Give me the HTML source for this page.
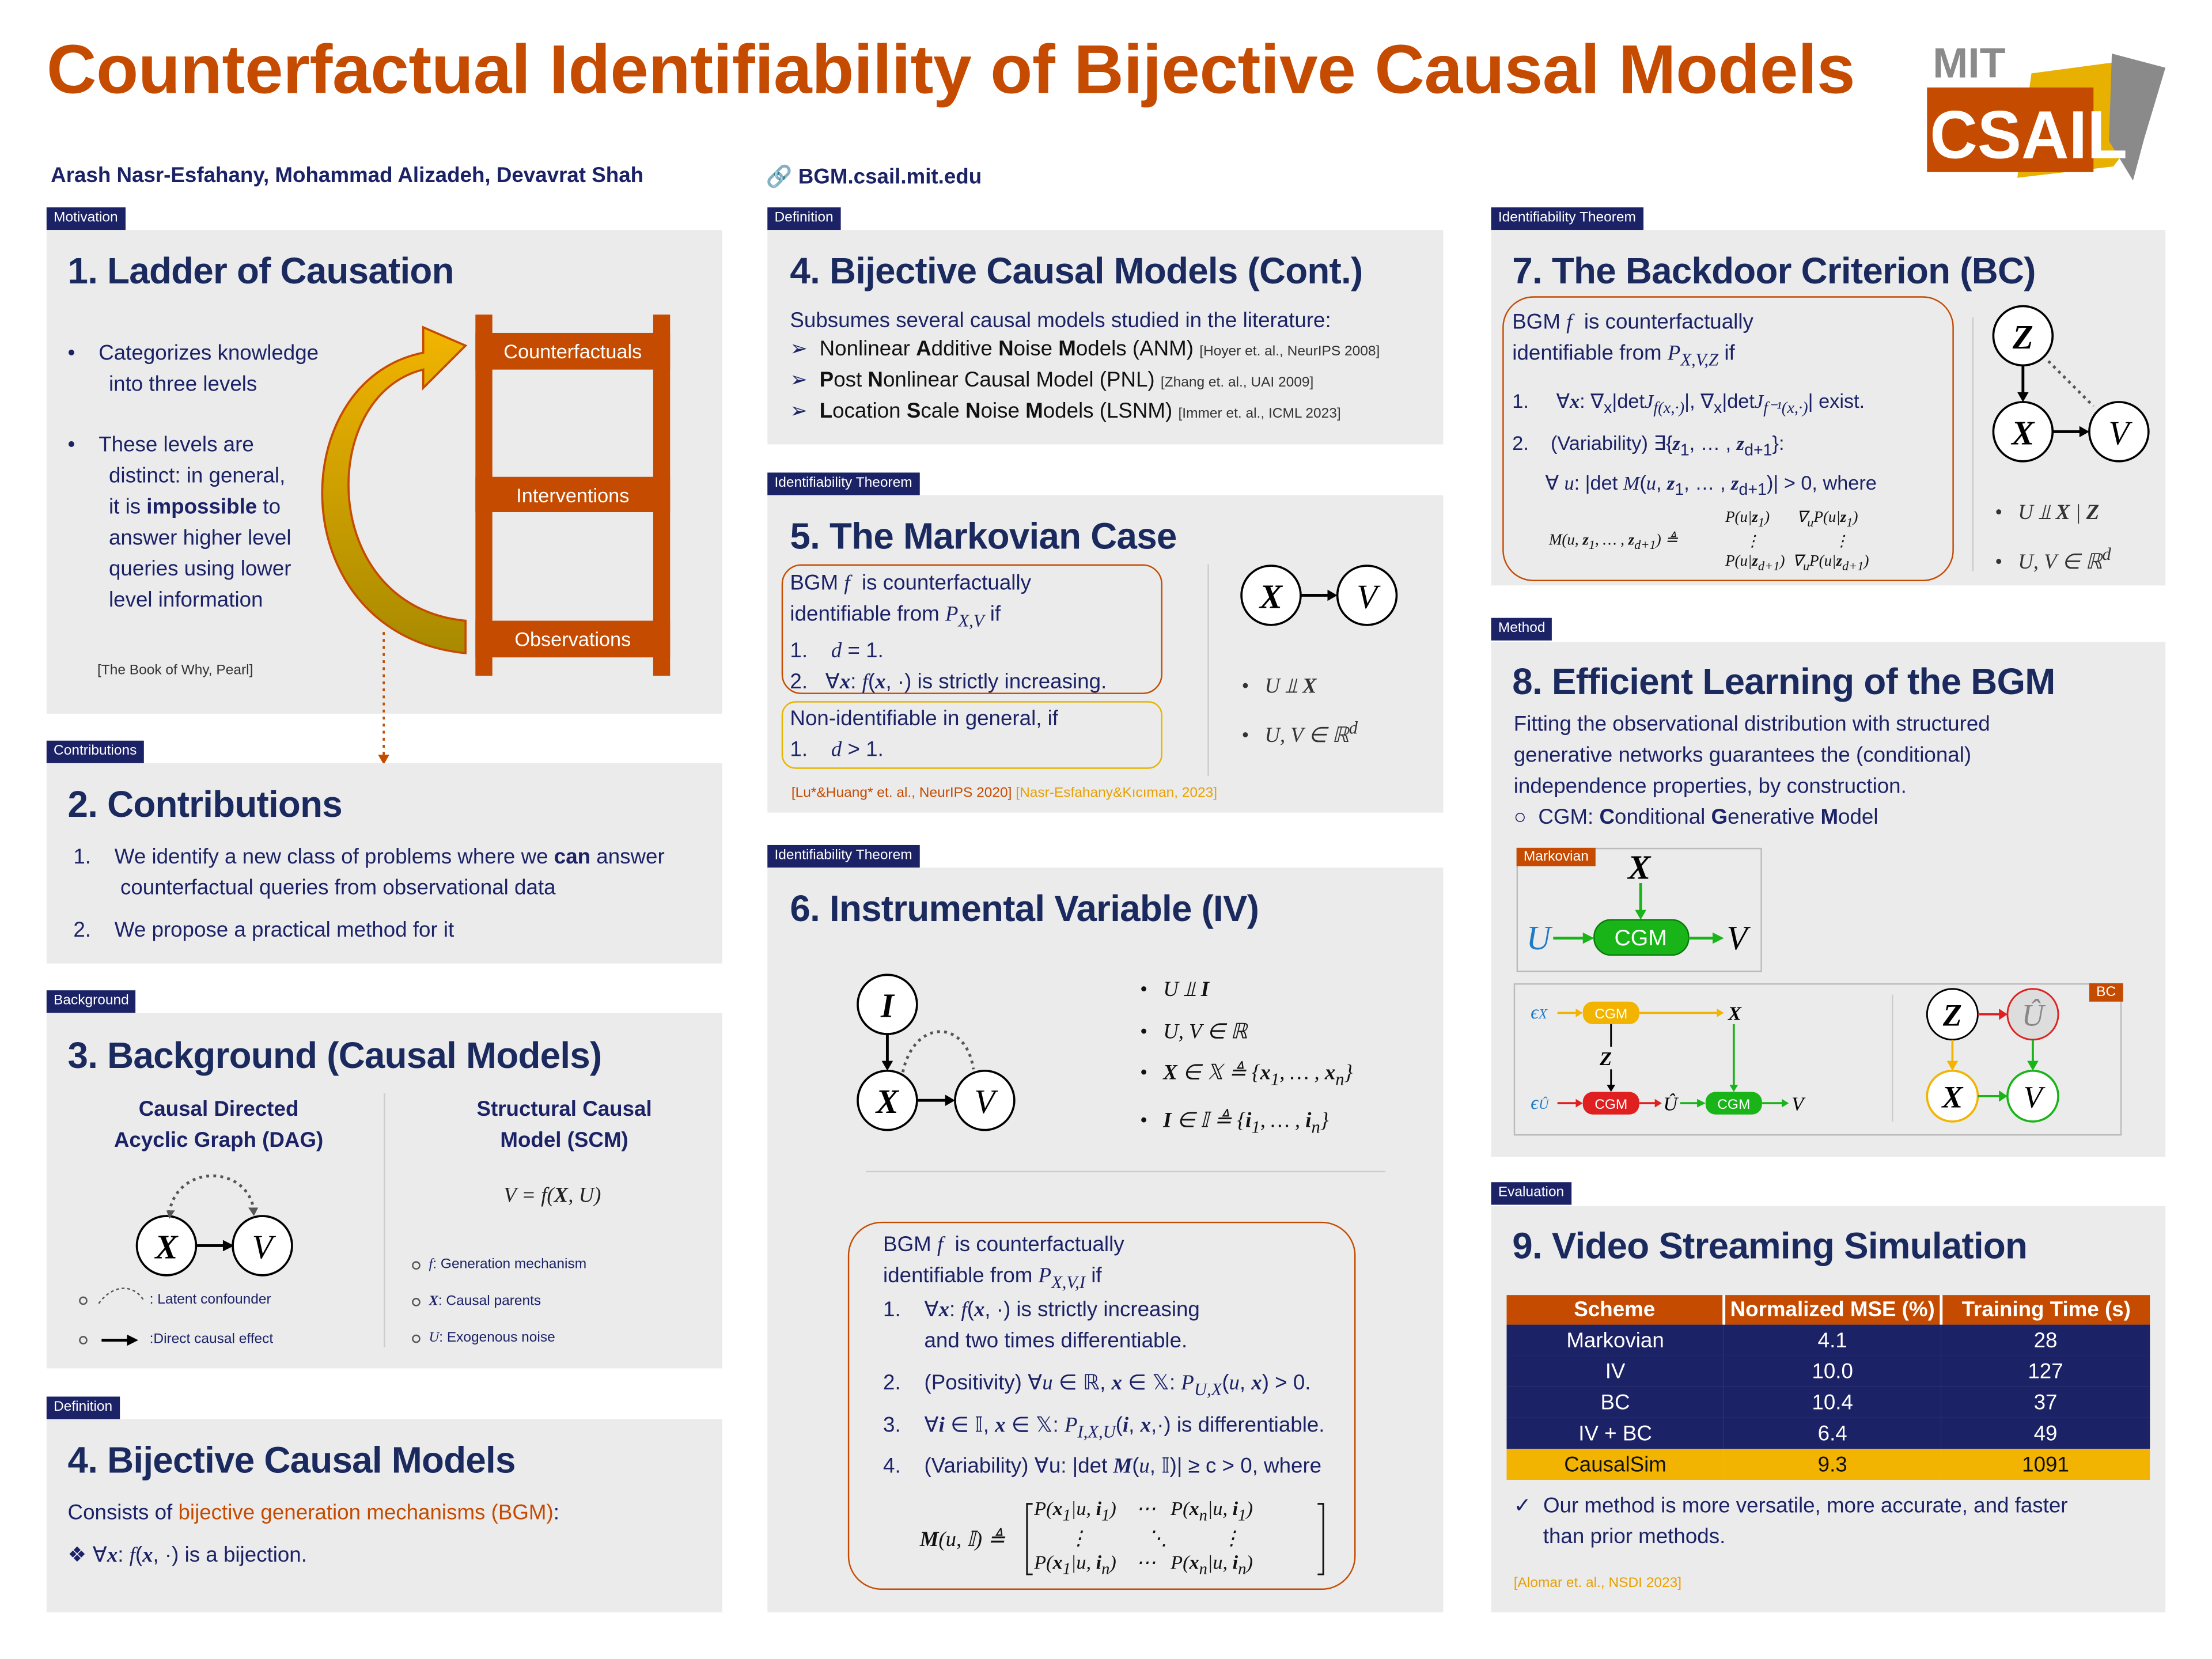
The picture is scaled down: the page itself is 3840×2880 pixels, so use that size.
<!DOCTYPE html>
<html><head><meta charset="utf-8">
<style>
html,body{margin:0;padding:0;background:#fff;}
body{width:3840px;height:2880px;overflow:hidden;}
#c{position:absolute;left:0;top:0;width:1568px;height:1176px;transform:scale(2.44898);transform-origin:0 0;font-family:"Liberation Sans",sans-serif;color:#111;}
.a{position:absolute;}
.p{position:absolute;background:#ebebeb;}
.tag{position:absolute;background:#1b2266;color:#fff;font-size:10px;padding:2px 5px;height:12px;line-height:12px;}
.h{position:absolute;color:#1b2a5e;font-weight:bold;font-size:26px;white-space:nowrap;letter-spacing:-0.3px;}
.t{position:absolute;font-size:15px;line-height:22px;color:#1b2266;white-space:nowrap;}
.m{font-family:"Liberation Serif",serif;font-style:italic;}
.s{font-size:10px;color:#333;}
.o{color:#c54b00;}
.box{position:absolute;border:1.3px solid #c54b00;border-radius:14px;}
.ybox{position:absolute;border:1.3px solid #e8b400;border-radius:10px;}
svg{position:absolute;left:0;top:0;overflow:visible;}
table{border-collapse:collapse;}
</style></head><body><div id="c">

<div class="a" style="left:33px;top:22px;font-size:49px;font-weight:bold;color:#c54b00;white-space:nowrap;letter-spacing:-0.2px;">Counterfactual Identifiability of Bijective Causal Models</div>
<div class="a" style="left:36px;top:116px;font-size:15px;font-weight:bold;color:#1b2266;">Arash Nasr-Esfahany, Mohammad Alizadeh, Devavrat Shah</div>
<div class="a" style="left:543px;top:116px;font-size:15px;font-weight:bold;color:#1b2266;">🔗 BGM.csail.mit.edu</div>

<!-- logo -->
<svg width="1568" height="1176">
 <text x="1370" y="55" font-size="30" font-weight="bold" fill="#8a8a8a" font-family="Liberation Sans">MIT</text>
 <polygon points="1440,52 1500,44 1520,90 1498,118 1430,126" fill="#e8b000"/>
 <polygon points="1497,38 1535,48 1520,98 1512,128 1495,100" fill="#8a8a8a"/>
 <rect x="1366" y="62" width="118" height="60" fill="#c54b00"/>
 <text x="1368" y="112" font-size="48" font-weight="bold" fill="#fff" font-family="Liberation Sans" textLength="140" lengthAdjust="spacingAndGlyphs">CSAIL</text>
</svg>

<!-- Column 1 -->
<div class="tag" style="left:33px;top:147px;">Motivation</div>
<div class="p" style="left:33px;top:163px;width:479px;height:343px;"></div>
<div class="h" style="left:48px;top:177px;">1. Ladder of Causation</div>
<div class="t" style="left:48px;top:240px;line-height:22px;">•&nbsp;&nbsp;&nbsp;&nbsp;Categorizes knowledge<br>&nbsp;&nbsp;&nbsp;&nbsp;&nbsp;&nbsp;&nbsp;into three levels</div>
<div class="t" style="left:48px;top:305px;">•&nbsp;&nbsp;&nbsp;&nbsp;These levels are<br>&nbsp;&nbsp;&nbsp;&nbsp;&nbsp;&nbsp;&nbsp;distinct: in general,<br>&nbsp;&nbsp;&nbsp;&nbsp;&nbsp;&nbsp;&nbsp;it is <b>impossible</b> to<br>&nbsp;&nbsp;&nbsp;&nbsp;&nbsp;&nbsp;&nbsp;answer higher level<br>&nbsp;&nbsp;&nbsp;&nbsp;&nbsp;&nbsp;&nbsp;queries using lower<br>&nbsp;&nbsp;&nbsp;&nbsp;&nbsp;&nbsp;&nbsp;level information</div>
<div class="a s" style="left:69px;top:470px;">[The Book of Why, Pearl]</div>
<svg width="1568" height="1176">
 <defs><linearGradient id="g" x1="0" y1="0" x2="0" y2="1"><stop offset="0" stop-color="#f2b400"/><stop offset="1" stop-color="#a88a00"/></linearGradient></defs>
 <path d="M330,463 C200,450 200,270 300,250 L300,232 L330,245 L300,275 L300,262 C225,280 225,430 330,440 Z" fill="url(#g)" stroke="#c54b00" stroke-width="1.5"/>
 <rect x="337" y="223" width="12" height="256" fill="#c54b00"/>
 <rect x="463" y="223" width="12" height="256" fill="#c54b00"/>
 <rect x="337" y="236" width="138" height="26" fill="#c54b00"/>
 <rect x="337" y="338" width="138" height="25" fill="#c54b00"/>
 <rect x="337" y="440" width="138" height="26" fill="#c54b00"/>
 <text x="406" y="254" font-size="14" fill="#fff" text-anchor="middle" font-family="Liberation Sans">Counterfactuals</text>
 <text x="406" y="356" font-size="14" fill="#fff" text-anchor="middle" font-family="Liberation Sans">Interventions</text>
 <text x="406" y="458" font-size="14" fill="#fff" text-anchor="middle" font-family="Liberation Sans">Observations</text>
 <line x1="272" y1="448" x2="272" y2="535" stroke="#c54b00" stroke-width="1.5" stroke-dasharray="2,3"/>
 <polygon points="268,535 276,535 272,542" fill="#c54b00"/>
</svg>

<div class="tag" style="left:33px;top:525px;">Contributions</div>
<div class="p" style="left:33px;top:541px;width:479px;height:142px;"></div>
<div class="h" style="left:48px;top:555px;">2. Contributions</div>
<div class="t" style="left:52px;top:597px;">1.&nbsp;&nbsp;&nbsp;&nbsp;We identify a new class of problems where we <b>can</b> answer<br>&nbsp;&nbsp;&nbsp;&nbsp;&nbsp;&nbsp;&nbsp;&nbsp;counterfactual queries from observational data</div>
<div class="t" style="left:52px;top:649px;">2.&nbsp;&nbsp;&nbsp;&nbsp;We propose a practical method for it</div>

<div class="tag" style="left:33px;top:702px;">Background</div>
<div class="p" style="left:33px;top:718px;width:479px;height:252px;"></div>
<div class="h" style="left:48px;top:733px;">3. Background (Causal Models)</div>
<div class="t" style="left:80px;top:776px;width:150px;text-align:center;font-weight:bold;">Causal Directed<br>Acyclic Graph (DAG)</div>
<div class="t" style="left:325px;top:776px;width:150px;text-align:center;font-weight:bold;">Structural Causal<br>Model (SCM)</div>
<div class="t m" style="left:357px;top:837px;color:#222;">V = f(<b>X</b>, U)</div>
<div class="a" style="left:272px;top:775px;width:1px;height:180px;background:#ccc;"></div>
<svg width="1568" height="1176">
 <circle cx="118" cy="883" r="21" fill="#fff" stroke="#000" stroke-width="1.5"/>
 <circle cx="186" cy="883" r="21" fill="#fff" stroke="#000" stroke-width="1.5"/>
 <text x="118" y="892" font-size="24" text-anchor="middle" font-family="Liberation Serif" font-style="italic" font-weight="bold">X</text>
 <text x="186" y="892" font-size="24" text-anchor="middle" font-family="Liberation Serif" font-style="italic">V</text>
 <line x1="139" y1="883" x2="160" y2="883" stroke="#000" stroke-width="2"/><polygon points="158,879 166,883 158,887"/>
 <path d="M120,860 C125,825 175,825 180,858" fill="none" stroke="#555" stroke-width="2" stroke-dasharray="2,3"/>
 <polygon points="118,858 124,858 120,864" fill="#555"/><polygon points="176,856 183,856 180,862" fill="#555"/>
 <circle cx="59" cy="922" r="2.5" fill="none" stroke="#555"/>
 <path d="M70,924 C80,910 95,910 102,922" fill="none" stroke="#555" stroke-dasharray="2,2"/>
 <circle cx="59" cy="950" r="2.5" fill="none" stroke="#555"/>
 <line x1="72" y1="950" x2="92" y2="950" stroke="#000" stroke-width="2"/><polygon points="90,946 98,950 90,954"/>
 <circle cx="295" cy="897" r="2.5" fill="none" stroke="#555"/>
 <circle cx="295" cy="923" r="2.5" fill="none" stroke="#555"/>
 <circle cx="295" cy="949" r="2.5" fill="none" stroke="#555"/>
</svg>
<div class="a s" style="left:106px;top:916px;color:#1b2266;">: Latent confounder</div>
<div class="a s" style="left:106px;top:944px;color:#1b2266;">:Direct causal effect</div>
<div class="a s" style="left:304px;top:891px;color:#1b2266;"><span class="m">f</span>: Generation mechanism</div>
<div class="a s" style="left:304px;top:917px;color:#1b2266;"><b class="m">X</b>: Causal parents</div>
<div class="a s" style="left:304px;top:943px;color:#1b2266;"><span class="m">U</span>: Exogenous noise</div>

<div class="tag" style="left:33px;top:990px;">Definition</div>
<div class="p" style="left:33px;top:1006px;width:479px;height:137px;"></div>
<div class="h" style="left:48px;top:1020px;">4. Bijective Causal Models</div>
<div class="t" style="left:48px;top:1062px;">Consists of <span class="o">bijective generation mechanisms (BGM)</span>:</div>
<div class="t" style="left:48px;top:1092px;">❖ ∀<b class="m">x</b>: <span class="m">f</span>(<b class="m">x</b>, ·) is a bijection.</div>

<!-- Column 2 -->
<div class="tag" style="left:544px;top:147px;">Definition</div>
<div class="p" style="left:544px;top:163px;width:479px;height:152px;"></div>
<div class="h" style="left:560px;top:177px;">4. Bijective Causal Models (Cont.)</div>
<div class="t" style="left:560px;top:218px;line-height:20px;color:#111;"><span style="color:#1b2266">Subsumes several causal models studied in the literature:</span><br>
<span style="color:#1b2266">➢</span>&nbsp; Nonlinear <b>A</b>dditive <b>N</b>oise <b>M</b>odels (ANM) <span class="s">[Hoyer et. al., NeurIPS 2008]</span><br>
<span style="color:#1b2266">➢</span>&nbsp; <b>P</b>ost <b>N</b>onlinear Causal Model (PNL) <span class="s">[Zhang et. al., UAI 2009]</span><br>
<span style="color:#1b2266">➢</span>&nbsp; <b>L</b>ocation <b>S</b>cale <b>N</b>oise <b>M</b>odels (LSNM) <span class="s">[Immer et. al., ICML 2023]</span></div>

<div class="tag" style="left:544px;top:335px;">Identifiability Theorem</div>
<div class="p" style="left:544px;top:351px;width:479px;height:225px;"></div>
<div class="h" style="left:560px;top:365px;">5. The Markovian Case</div>
<div class="box" style="left:554px;top:400px;width:268px;height:90px;"></div>
<div class="t" style="left:560px;top:403px;">BGM <span class="m">f</span>&nbsp; is counterfactually<br>identifiable from <span class="m">P<sub>X,V</sub></span> if<br>1.&nbsp;&nbsp;&nbsp; <span class="m">d</span> = 1.<br>2.&nbsp;&nbsp; ∀<b class="m">x</b>: <span class="m">f</span>(<b class="m">x</b>, ·) is strictly increasing.</div>
<div class="ybox" style="left:554px;top:497px;width:268px;height:46px;"></div>
<div class="t" style="left:560px;top:499px;">Non-identifiable in general, if<br>1.&nbsp;&nbsp;&nbsp; <span class="m">d</span> &gt; 1.</div>
<div class="a" style="left:561px;top:557px;font-size:10px;"><span class="o">[Lu*&amp;Huang* et. al., NeurIPS 2020]</span> <span style="color:#e8a000">[Nasr-Esfahany&amp;Kıcıman, 2023]</span></div>
<div class="a" style="left:856px;top:400px;width:1px;height:150px;background:#ccc;"></div>
<div class="t m" style="left:880px;top:473px;line-height:29px;color:#333;">•&nbsp;&nbsp;&nbsp;U ⫫ <b>X</b><br>•&nbsp;&nbsp;&nbsp;U, V ∈ ℝ<sup>d</sup></div>

<div class="tag" style="left:544px;top:599px;">Identifiability Theorem</div>
<div class="p" style="left:544px;top:615px;width:479px;height:528px;"></div>
<div class="h" style="left:560px;top:629px;">6. Instrumental Variable (IV)</div>
<div class="t m" style="left:808px;top:688px;line-height:29.5px;color:#111;">•&nbsp;&nbsp;&nbsp;U ⫫ <b>I</b><br>•&nbsp;&nbsp;&nbsp;U, V ∈ ℝ<br>•&nbsp;&nbsp;&nbsp;<b>X</b> ∈ 𝕏 ≜ {<b>x</b><sub>1</sub>, … , <b>x</b><sub>n</sub>}<br>•&nbsp;&nbsp;&nbsp;<b>I</b> ∈ 𝕀 ≜ {<b>i</b><sub>1</sub>, … , <b>i</b><sub>n</sub>}</div>
<div class="a" style="left:614px;top:830px;width:368px;height:1px;background:#ccc;"></div>
<div class="box" style="left:601px;top:866px;width:358px;height:259px;border-radius:24px;"></div>
<div class="t" style="left:626px;top:872px;line-height:22px;">BGM <span class="m">f</span>&nbsp; is counterfactually<br>identifiable from <span class="m">P<sub>X,V,I</sub></span> if</div>
<div class="t" style="left:626px;top:918px;">1.&nbsp;&nbsp;&nbsp; ∀<b class="m">x</b>: <span class="m">f</span>(<b class="m">x</b>, ·) is strictly increasing<br>&nbsp;&nbsp;&nbsp;&nbsp;&nbsp;&nbsp;&nbsp;and two times differentiable.</div>
<div class="t" style="left:626px;top:970px;">2.&nbsp;&nbsp;&nbsp; (Positivity) ∀<span class="m">u</span> ∈ ℝ, <b class="m">x</b> ∈ 𝕏: <span class="m">P<sub>U,X</sub></span>(<span class="m">u</span>, <b class="m">x</b>) &gt; 0.</div>
<div class="t" style="left:626px;top:1000px;">3.&nbsp;&nbsp;&nbsp; ∀<b class="m">i</b> ∈ 𝕀, <b class="m">x</b> ∈ 𝕏: <span class="m">P<sub>I,X,U</sub></span>(<b class="m">i</b>, <b class="m">x</b>,·) is differentiable.</div>
<div class="t" style="left:626px;top:1029px;">4.&nbsp;&nbsp;&nbsp; (Variability) ∀u: |det <b class="m">M</b>(<span class="m">u</span>, 𝕀)| ≥ c &gt; 0, where</div>
<div class="t m" style="left:652px;top:1081px;color:#111;"><b>M</b>(u, 𝕀) ≜</div>
<div class="t m" style="left:733px;top:1062px;line-height:17px;font-size:14px;color:#111;">P(<b>x</b><sub>1</sub>|u, <b>i</b><sub>1</sub>)&nbsp;&nbsp;&nbsp;&nbsp;⋯&nbsp;&nbsp;&nbsp;P(<b>x</b><sub>n</sub>|u, <b>i</b><sub>1</sub>)<br>&nbsp;&nbsp;&nbsp;&nbsp;&nbsp;&nbsp;&nbsp;⋮&nbsp;&nbsp;&nbsp;&nbsp;&nbsp;&nbsp;&nbsp;&nbsp;&nbsp;&nbsp;&nbsp;&nbsp;⋱&nbsp;&nbsp;&nbsp;&nbsp;&nbsp;&nbsp;&nbsp;&nbsp;&nbsp;&nbsp;&nbsp;⋮<br>P(<b>x</b><sub>1</sub>|u, <b>i</b><sub>n</sub>)&nbsp;&nbsp;&nbsp;&nbsp;⋯&nbsp;&nbsp;&nbsp;P(<b>x</b><sub>n</sub>|u, <b>i</b><sub>n</sub>)</div>
<svg width="1568" height="1176">
 <g stroke="#111" stroke-width="1.2" fill="none">
 <path d="M732,1066 h-4 v50 h4"/><path d="M934,1066 h4 v50 h-4"/>
 </g>
</svg>

<svg width="1568" height="1176">
 <g font-family="Liberation Serif" font-style="italic" text-anchor="middle" font-size="24">
 <circle cx="901" cy="422" r="21" fill="#fff" stroke="#000" stroke-width="1.5"/>
 <circle cx="969" cy="422" r="21" fill="#fff" stroke="#000" stroke-width="1.5"/>
 <text x="901" y="431" font-weight="bold">X</text><text x="969" y="431">V</text>
 <line x1="922" y1="422" x2="943" y2="422" stroke="#000" stroke-width="2"/><polygon points="941,418 948,422 941,426"/>
 <circle cx="629" cy="712" r="21" fill="#fff" stroke="#000" stroke-width="1.5"/>
 <circle cx="629" cy="780" r="21" fill="#fff" stroke="#000" stroke-width="1.5"/>
 <circle cx="698" cy="780" r="21" fill="#fff" stroke="#000" stroke-width="1.5"/>
 <text x="629" y="721" font-weight="bold">I</text><text x="629" y="789" font-weight="bold">X</text><text x="698" y="789">V</text>
 <line x1="629" y1="733" x2="629" y2="753" stroke="#000" stroke-width="2"/><polygon points="625,752 633,752 629,759"/>
 <line x1="650" y1="780" x2="672" y2="780" stroke="#000" stroke-width="2"/><polygon points="670,776 677,780 670,784"/>
 <path d="M640,760 C648,722 685,722 690,758" fill="none" stroke="#555" stroke-width="2" stroke-dasharray="2,3"/>
 </g>
</svg>

<!-- Column 3 -->
<div class="tag" style="left:1057px;top:147px;">Identifiability Theorem</div>
<div class="p" style="left:1057px;top:163px;width:478px;height:252px;"></div>
<div class="h" style="left:1072px;top:177px;">7. The Backdoor Criterion (BC)</div>
<div class="box" style="left:1065px;top:210px;width:318px;height:200px;border-radius:22px;"></div>
<div class="t" style="left:1072px;top:218px;">BGM <span class="m">f</span>&nbsp; is counterfactually<br>identifiable from <span class="m">P<sub>X,V,Z</sub></span> if</div>
<div class="t" style="left:1072px;top:273px;font-size:14px;">1.&nbsp;&nbsp;&nbsp;&nbsp; ∀<b class="m">x</b>: ∇<sub>x</sub>|det<span class="m">J<sub>f(x,·)</sub></span>|, ∇<sub>x</sub>|det<span class="m">J<sub>f⁻¹(x,·)</sub></span>| exist.</div>
<div class="t" style="left:1072px;top:303px;font-size:14px;">2.&nbsp;&nbsp;&nbsp; (Variability) ∃{<b class="m">z</b><sub>1</sub>, … , <b class="m">z</b><sub>d+1</sub>}:<br>&nbsp;&nbsp;&nbsp;&nbsp;&nbsp;&nbsp;∀ <span class="m">u</span>: |det <span class="m">M</span>(<span class="m">u</span>, <b class="m">z</b><sub>1</sub>, … , <b class="m">z</b><sub>d+1</sub>)| &gt; 0, where</div>
<div class="a m" style="left:1098px;top:376px;font-size:11px;">M(u, <b>z</b><sub>1</sub>, … , <b>z</b><sub>d+1</sub>) ≜</div>
<div class="a m" style="left:1223px;top:360px;font-size:11px;line-height:14px;">P(u|<b>z</b><sub>1</sub>)&nbsp;&nbsp;&nbsp;&nbsp;&nbsp;&nbsp;&nbsp;∇<sub>u</sub>P(u|<b>z</b><sub>1</sub>)<br>&nbsp;&nbsp;&nbsp;&nbsp;&nbsp;⋮&nbsp;&nbsp;&nbsp;&nbsp;&nbsp;&nbsp;&nbsp;&nbsp;&nbsp;&nbsp;&nbsp;&nbsp;&nbsp;&nbsp;&nbsp;&nbsp;&nbsp;&nbsp;&nbsp;⋮<br>P(u|<b>z</b><sub>d+1</sub>)&nbsp;&nbsp;∇<sub>u</sub>P(u|<b>z</b><sub>d+1</sub>)</div>
<div class="a" style="left:1398px;top:225px;width:1px;height:180px;background:#ccc;"></div>
<div class="t m" style="left:1414px;top:350px;line-height:29px;color:#333;">•&nbsp;&nbsp;&nbsp;U ⫫ <b>X</b> | <b>Z</b><br>•&nbsp;&nbsp;&nbsp;U, V ∈ ℝ<sup>d</sup></div>
<svg width="1568" height="1176">
 <g font-family="Liberation Serif" font-style="italic" text-anchor="middle" font-size="24">
 <circle cx="1434" cy="238" r="21" fill="#fff" stroke="#000" stroke-width="1.5"/>
 <circle cx="1434" cy="306" r="21" fill="#fff" stroke="#000" stroke-width="1.5"/>
 <circle cx="1502" cy="306" r="21" fill="#fff" stroke="#000" stroke-width="1.5"/>
 <text x="1434" y="247" font-weight="bold">Z</text><text x="1434" y="315" font-weight="bold">X</text><text x="1502" y="315">V</text>
 <line x1="1434" y1="259" x2="1434" y2="279" stroke="#000" stroke-width="2"/><polygon points="1430,278 1438,278 1434,285"/>
 <line x1="1455" y1="306" x2="1476" y2="306" stroke="#000" stroke-width="2"/><polygon points="1474,302 1481,306 1474,310"/>
 <line x1="1452" y1="256" x2="1484" y2="288" stroke="#555" stroke-width="2" stroke-dasharray="2,3"/>
 </g>
</svg>

<div class="tag" style="left:1057px;top:438px;">Method</div>
<div class="p" style="left:1057px;top:455px;width:478px;height:365px;"></div>
<div class="h" style="left:1072px;top:468px;">8. Efficient Learning of the BGM</div>
<div class="t" style="left:1073px;top:503px;">Fitting the observational distribution with structured<br>generative networks guarantees the (conditional)<br>independence properties, by construction.<br>○&nbsp; CGM: <b>C</b>onditional <b>G</b>enerative <b>M</b>odel</div>
<div class="a" style="left:1075px;top:601px;width:172px;height:86px;border:1px solid #bbb;"></div>
<div class="a" style="left:1075px;top:601px;background:#c54b00;color:#fff;font-size:10px;padding:1px 5px;">Markovian</div>
<div class="a" style="left:1073px;top:697px;width:429px;height:106px;border:1px solid #bbb;"></div>
<div class="a" style="left:1481px;top:697px;background:#c54b00;color:#fff;font-size:10px;padding:1px 5px;">BC</div>
<div class="a" style="left:1341px;top:705px;width:1px;height:90px;background:#ccc;"></div>
<svg width="1568" height="1176" font-family="Liberation Sans">
 <g font-family="Liberation Serif" font-style="italic">
 <text x="1162" y="623" font-size="24" text-anchor="middle" font-weight="bold">X</text>
 <text x="1082" y="673" font-size="24" fill="#1f7ac8">U</text>
 <text x="1224" y="673" font-size="24">V</text>
 </g>
 <rect x="1130" y="652" width="67" height="25" rx="12" fill="#18b418" stroke="#0a7a0a"/>
 <text x="1163" y="670" font-size="16" fill="#fff" text-anchor="middle">CGM</text>
 <line x1="1163" y1="626" x2="1163" y2="646" stroke="#18b418" stroke-width="2"/><polygon points="1159,645 1167,645 1163,652" fill="#18b418"/>
 <line x1="1101" y1="665" x2="1123" y2="665" stroke="#18b418" stroke-width="2"/><polygon points="1122,661 1130,665 1122,669" fill="#18b418"/>
 <line x1="1197" y1="665" x2="1215" y2="665" stroke="#18b418" stroke-width="2"/><polygon points="1214,661 1222,665 1214,669" fill="#18b418"/>
 <g font-family="Liberation Serif" font-style="italic" font-size="14">
 <text x="1085" y="722" fill="#1f7ac8">ϵ<tspan font-size="10">X</tspan></text>
 <text x="1085" y="786" fill="#1f7ac8">ϵ<tspan font-size="10">Û</tspan></text>
 <text x="1225" y="723" font-weight="bold">X</text>
 <text x="1134" y="755" font-weight="bold">Z</text>
 <text x="1179" y="787">Û</text>
 <text x="1270" y="787">V</text>
 </g>
 <rect x="1122" y="710" width="40" height="16" rx="7" fill="#f2b400"/><text x="1142" y="722" font-size="10" fill="#fff" text-anchor="middle">CGM</text>
 <rect x="1122" y="774" width="40" height="16" rx="7" fill="#e02020"/><text x="1142" y="786" font-size="10" fill="#fff" text-anchor="middle">CGM</text>
 <rect x="1209" y="774" width="40" height="16" rx="7" fill="#18b418"/><text x="1229" y="786" font-size="10" fill="#fff" text-anchor="middle">CGM</text>
 <line x1="1104" y1="718" x2="1118" y2="718" stroke="#f2b400" stroke-width="1.5"/><polygon points="1117,715 1122,718 1117,721" fill="#f2b400"/>
 <line x1="1162" y1="718" x2="1218" y2="718" stroke="#f2b400" stroke-width="1.5"/><polygon points="1217,715 1222,718 1217,721" fill="#f2b400"/>
 <line x1="1142" y1="726" x2="1142" y2="742" stroke="#000" stroke-width="1.2"/>
 <line x1="1142" y1="758" x2="1142" y2="770" stroke="#000" stroke-width="1.2"/><polygon points="1139,769 1145,769 1142,774"/>
 <line x1="1104" y1="782" x2="1118" y2="782" stroke="#e02020" stroke-width="1.5"/><polygon points="1117,779 1122,782 1117,785" fill="#e02020"/>
 <line x1="1162" y1="782" x2="1174" y2="782" stroke="#e02020" stroke-width="1.5"/><polygon points="1173,779 1178,782 1173,785" fill="#e02020"/>
 <line x1="1191" y1="782" x2="1204" y2="782" stroke="#18b418" stroke-width="1.5"/><polygon points="1203,779 1209,782 1203,785" fill="#18b418"/>
 <line x1="1249" y1="782" x2="1264" y2="782" stroke="#18b418" stroke-width="1.5"/><polygon points="1263,779 1268,782 1263,785" fill="#18b418"/>
 <line x1="1229" y1="726" x2="1229" y2="770" stroke="#18b418" stroke-width="1.5"/><polygon points="1226,769 1232,769 1229,774" fill="#18b418"/>
 <g font-family="Liberation Serif" font-style="italic" font-size="22" text-anchor="middle">
 <circle cx="1384" cy="719" r="18" fill="#fff" stroke="#000" stroke-width="1.2"/>
 <circle cx="1441" cy="719" r="18" fill="#ddd" stroke="#e02020" stroke-width="1.2"/>
 <circle cx="1384" cy="777" r="18" fill="#fff" stroke="#f2b400" stroke-width="1.5"/>
 <circle cx="1441" cy="777" r="18" fill="#fff" stroke="#18b418" stroke-width="1.5"/>
 <text x="1384" y="727" font-weight="bold">Z</text><text x="1441" y="727" fill="#888">Û</text>
 <text x="1384" y="785" font-weight="bold">X</text><text x="1441" y="785">V</text>
 </g>
 <line x1="1402" y1="719" x2="1418" y2="719" stroke="#e02020" stroke-width="1.5"/><polygon points="1417,715 1423,719 1417,723" fill="#e02020"/>
 <line x1="1384" y1="737" x2="1384" y2="753" stroke="#f2b400" stroke-width="1.5"/><polygon points="1380,752 1388,752 1384,759" fill="#f2b400"/>
 <line x1="1441" y1="737" x2="1441" y2="753" stroke="#18b418" stroke-width="1.5"/><polygon points="1437,752 1445,752 1441,759" fill="#18b418"/>
 <line x1="1402" y1="777" x2="1418" y2="777" stroke="#18b418" stroke-width="1.5"/><polygon points="1417,773 1423,777 1417,781" fill="#18b418"/>
</svg>

<div class="tag" style="left:1057px;top:838px;">Evaluation</div>
<div class="p" style="left:1057px;top:855px;width:478px;height:288px;"></div>
<div class="h" style="left:1072px;top:868px;">9. Video Streaming Simulation</div>
<table class="a" style="left:1068px;top:918px;width:456px;font-size:15px;text-align:center;color:#fff;">
<tr style="background:#c54b00;font-weight:bold;height:21px;"><td style="width:151px;border-right:2px solid #fff;">Scheme</td><td style="width:150px;border-right:2px solid #fff;">Normalized MSE (%)</td><td>Training Time (s)</td></tr>
<tr style="background:#1c2266;height:22px;"><td>Markovian</td><td>4.1</td><td>28</td></tr>
<tr style="background:#1c2266;height:22px;"><td>IV</td><td>10.0</td><td>127</td></tr>
<tr style="background:#1c2266;height:22px;"><td>BC</td><td>10.4</td><td>37</td></tr>
<tr style="background:#1c2266;height:22px;"><td>IV + BC</td><td>6.4</td><td>49</td></tr>
<tr style="background:#f2b400;color:#111;height:22px;"><td>CausalSim</td><td>9.3</td><td>1091</td></tr>
</table>
<div class="t" style="left:1073px;top:1057px;">✓&nbsp; Our method is more versatile, more accurate, and faster<br>&nbsp;&nbsp;&nbsp;&nbsp;&nbsp;than prior methods.</div>
<div class="a" style="left:1073px;top:1117px;font-size:10px;color:#e8a000;">[Alomar et. al., NSDI 2023]</div>

</div></body></html>
